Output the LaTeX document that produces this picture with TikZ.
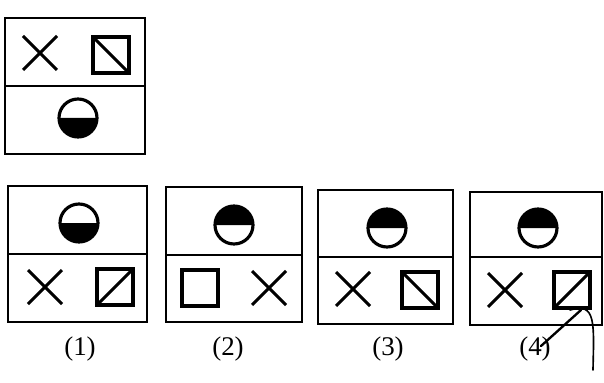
\documentclass[tikz,border=0pt]{standalone}
\usepackage{tikz}
\usepackage{fontspec}
\setmainfont{Liberation Serif}

% cross, square with a diagonal, half filled disc
\newcommand{\xcross}[2]{%
  \draw[fig] (#1-17,#2-17) -- (#1+17,#2+17);
  \draw[fig] (#1-17,#2+17) -- (#1+17,#2-17);}
\newcommand{\sqbox}[2]{%
  \draw[fig] (#1-18,#2-18) rectangle (#1+18,#2+18);}
\newcommand{\sqrise}[2]{%
  \sqbox{#1}{#2}
  \draw[fig] (#1-18,#2-18) -- (#1+18,#2+18);}
\newcommand{\sqfall}[2]{%
  \sqbox{#1}{#2}
  \draw[fig] (#1-18,#2+18) -- (#1+18,#2-18);}
\newcommand{\disctop}[2]{%
  \fill (#1-19,#2) arc (180:0:19*0.03cm) -- cycle;
  \draw[fig] (#1,#2) circle (19*0.03cm);}
\newcommand{\discbottom}[2]{%
  \fill (#1-19,#2) arc (180:360:19*0.03cm) -- cycle;
  \draw[fig] (#1,#2) circle (19*0.03cm);}

\begin{document}
\begin{tikzpicture}[x=0.03cm, y=0.03cm,
  frame/.style={line width=2.5pt},
  fig/.style={line width=2.7pt},
  lab/.style={font=\fontsize{23}{26}\selectfont}]
\useasboundingbox (0,0) rectangle (604,382);

% Question figure
\draw[frame] (5,228) rectangle (145,364);
\draw[frame] (5,296) -- (145,296);
\xcross{40}{329}
\sqfall{111}{327}
\discbottom{78}{264}

% Option (1)
\draw[frame] (8,60) rectangle (147,196);
\draw[frame] (8,128) -- (147,128);
\discbottom{79}{159}
\xcross{45}{95}
\sqrise{115}{95}
\node[lab] (l1) at (80,33) {(1)};

% Option (2)
\draw[frame] (166,60) rectangle (302,195);
\draw[frame] (166,127) -- (302,127);
\disctop{234}{157}
\sqbox{200}{94}
\xcross{269}{94}
\node[lab] (l2) at (228,33) {(2)};

% Option (3)
\draw[frame] (318,58) rectangle (453,192);
\draw[frame] (318,125) -- (453,125);
\disctop{387}{154}
\xcross{353}{93}
\sqfall{420}{92}
\node[lab] (l3) at (388,33) {(3)};

% Option (4)
\draw[frame] (470,57) rectangle (602,190);
\draw[frame] (470,125) -- (602,125);
\disctop{538}{154}
\xcross{505}{92}
\sqrise{572}{92}
\node[lab] (l4) at (535,33) {(4)};

% pen marks
\draw[line width=2pt, line cap=round] (581,72) -- (541,36);
\draw[line width=1.4pt, line cap=round] (570,72) .. controls (596,80) and (594,60) .. (593,12);

\end{tikzpicture}
\end{document}
